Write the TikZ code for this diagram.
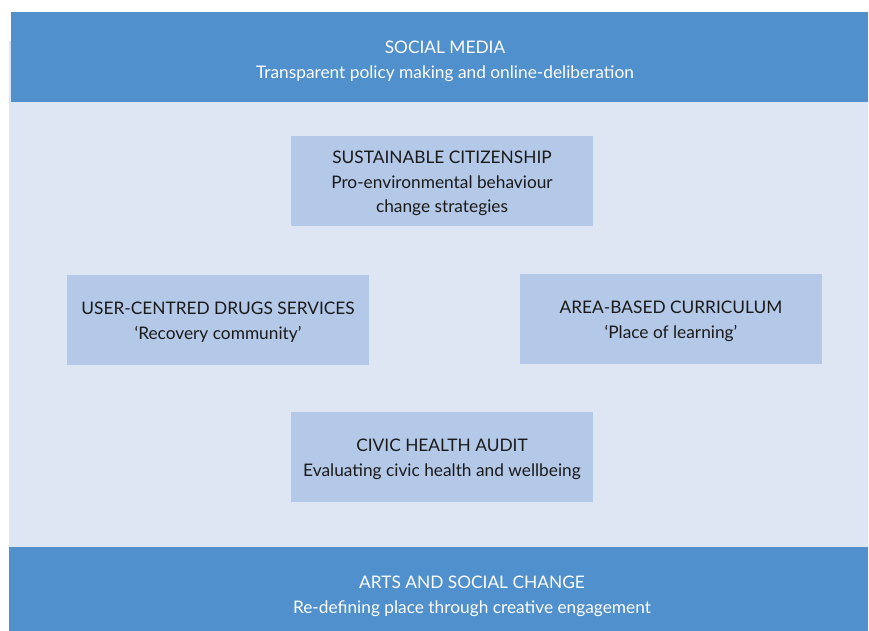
\documentclass[tikz,border=0pt]{standalone}
\usepackage{fontspec}
\setmainfont{Lato}
\definecolor{band}{HTML}{4F90CD}
\definecolor{bgl}{HTML}{DFE6F3}
\definecolor{boxc}{HTML}{B4C9E8}
\definecolor{txt}{HTML}{1A1A1A}
\tikzset{
  topic/.style={fill=boxc, draw=none, minimum width=302pt, minimum height=90pt, inner sep=0pt},
  topictext/.style={align=center, text=txt, font=\fontsize{17.3}{24.6}\selectfont, inner sep=0pt},
  bandtext/.style={align=center, text=white, font=\fontsize{17.3}{24.6}\selectfont, inner sep=0pt}
}
\begin{document}
\begin{tikzpicture}[x=1pt,y=-1pt]
\useasboundingbox (0,0) rectangle (869,631);
\fill[bgl] (9,41) rectangle (868,547);
\fill[band] (11,12) rectangle (868,102);
\fill[band] (9,547) rectangle (868,631);
\node[bandtext] (top) at (445,61.5) {SOCIAL MEDIA\\Transparent policy making and online-deliberation};
\node[bandtext] (bot) at (472,596.5) {ARTS AND SOCIAL CHANGE\\Re-defining place through creative engagement};
\node[topic] (sus) at (442,181) {};
\node[topic] (ucd) at (218,320) {};
\node[topic] (abc) at (671,319) {};
\node[topic] (chA) at (442,457) {};
\node[topictext] (sust) at ([yshift=-2.5pt]sus.center) {SUSTAINABLE CITIZENSHIP\\Pro-environmental behaviour\\change strategies};
\node[topictext] (ucdt) at ([yshift=-2.5pt]ucd.center) {USER-CENTRED DRUGS SERVICES\\‘Recovery community’};
\node[topictext] (abct) at ([yshift=-2.5pt]abc.center) {AREA-BASED CURRICULUM\\‘Place of learning’};
\node[topictext] (chAt) at ([yshift=-2.5pt]chA.center) {CIVIC HEALTH AUDIT\\Evaluating civic health and wellbeing};
\end{tikzpicture}
\end{document}
